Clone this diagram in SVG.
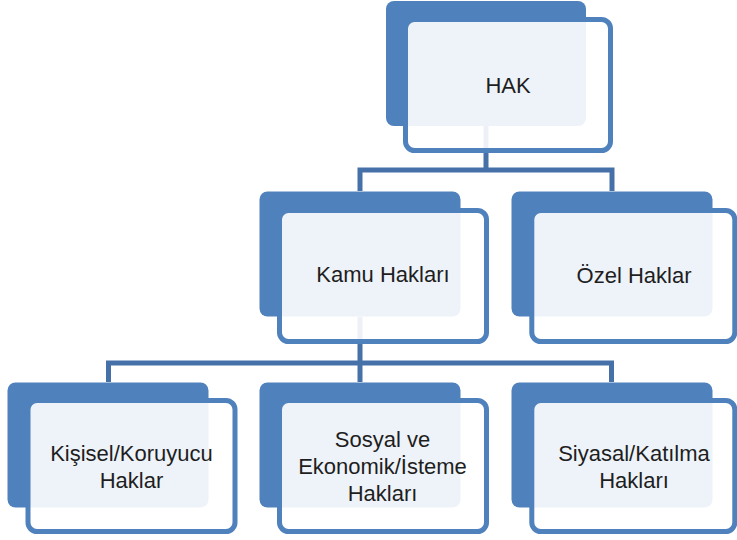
<svg xmlns="http://www.w3.org/2000/svg" width="737" height="540" viewBox="0 0 737 540">
<style>
.back{fill:#4F81BD;}
.front{fill:#FFFFFF;fill-opacity:0.9;stroke:#4F81BD;stroke-width:5;}
.conn{fill:none;stroke:#4671A8;stroke-width:5;stroke-linejoin:miter;stroke-linecap:butt;}
text{font-family:"Liberation Sans",Arial,sans-serif;font-size:22px;fill:#1E1E1E;text-anchor:middle;}
</style>
<rect width="737" height="540" fill="#FFFFFF"/>
<g id="connectors">
<path class="conn" d="M486,126 V170 M360,191 V170 H612 V191"/>
<path class="conn" d="M360,317 V382 M108.5,382 V363 H611.5 V382"/>
</g>
<g id="node-hak">
<rect class="back" x="386" y="1" width="200" height="125" rx="8"/>
<rect class="front" x="405.5" y="19.5" width="205" height="131" rx="9"/>
<text x="508" y="92.5">HAK</text>
</g>
<g id="node-kamu">
<rect class="back" x="259.5" y="191.5" width="201" height="125" rx="8"/>
<rect class="front" x="279.5" y="210.5" width="207" height="131" rx="9"/>
<text x="383" y="282">Kamu Hakları</text>
</g>
<g id="node-ozel">
<rect class="back" x="511.5" y="191.5" width="201" height="125" rx="8"/>
<rect class="front" x="531.8" y="210.5" width="203" height="131" rx="9"/>
<text x="634" y="283">Özel Haklar</text>
</g>
<g id="node-kisisel">
<rect class="back" x="7.5" y="382.5" width="201" height="125" rx="8"/>
<rect class="front" x="28" y="400.5" width="207" height="131" rx="9"/>
<text x="131.5" y="461">Kişisel/Koruyucu</text>
<text x="131.5" y="487.5">Haklar</text>
</g>
<g id="node-sosyal">
<rect class="back" x="259.5" y="382.5" width="201" height="125" rx="8"/>
<rect class="front" x="279.5" y="400.5" width="207" height="131" rx="9"/>
<text x="382.5" y="447">Sosyal ve</text>
<text x="382.5" y="474">Ekonomik/İsteme</text>
<text x="382.5" y="501">Hakları</text>
</g>
<g id="node-siyasal">
<rect class="back" x="511.5" y="382.5" width="201" height="125" rx="8"/>
<rect class="front" x="531.8" y="400.5" width="203" height="131" rx="9"/>
<text x="634" y="461">Siyasal/Katılma</text>
<text x="634" y="487.5">Hakları</text>
</g>
</svg>
